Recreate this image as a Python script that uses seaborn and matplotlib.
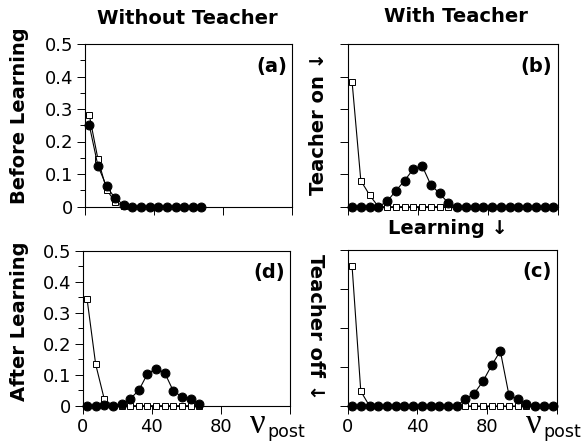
import numpy as np
import seaborn as sns
import matplotlib.pyplot as plt

# %%
# Values (bins of width 5, centred at 2.5, 7.5, ...)
nu_short = [2.5 + 5 * i for i in range(14)]
nu_long = [2.5 + 5 * i for i in range(24)]

a_filled = [0.250, 0.125, 0.062, 0.025, 0.005, 0, 0, 0, 0, 0, 0, 0, 0, 0]
a_open = [0.281, 0.146, 0.052, 0.014, 0.002, 0, 0, 0, 0, 0, 0, 0, 0, 0]

b_filled = [0, 0, 0, 0, 0.016, 0.049, 0.080, 0.116, 0.126, 0.067, 0.041, 0.011,
            0, 0, 0, 0, 0, 0, 0, 0, 0, 0, 0, 0]
b_open = [0.384, 0.080, 0.036, 0, 0, 0, 0, 0, 0, 0, 0, 0,
          0, 0, 0, 0, 0, 0, 0, 0, 0, 0, 0, 0]

c_filled = [0, 0, 0, 0, 0, 0, 0, 0, 0, 0, 0, 0, 0,
            0.018, 0.032, 0.063, 0.104, 0.141, 0.027, 0.017, 0.005, 0, 0, 0]
c_open = [0.359, 0.038, 0, 0, 0, 0, 0, 0, 0, 0, 0, 0,
          0, 0, 0, 0, 0, 0, 0, 0, 0, 0, 0, 0]

d_filled = [0, 0, 0.002, 0, 0.006, 0.022, 0.050, 0.103, 0.120, 0.106, 0.047, 0.029, 0.022, 0.006]
d_open = [0.346, 0.134, 0.021, 0, 0, 0, 0, 0, 0, 0, 0, 0, 0, 0]

x_ticks = [0, 40, 80, 120]
x_ticklabels = ['0', '40', '80', '']
y_ticks = [0, 0.1, 0.2, 0.3, 0.4, 0.5]
y_ticklabels = ['0', '0.1', '0.2', '0.3', '0.4', '0.5']
y_ticks_c = [0, 0.1, 0.2, 0.3, 0.4]

# %%
sns.set_theme(style='ticks')
plt.rcParams['font.family'] = ['DejaVu Sans']
plt.rcParams['axes.linewidth'] = 0.8
plt.rcParams['axes.edgecolor'] = 'black'
plt.rcParams['text.color'] = 'black'

W, H = 583, 445
fig = plt.figure(figsize=(W / 100, H / 100), dpi=100)


def box(l, t, r, b):
    return [l / W, 1 - b / H, (r - l) / W, (b - t) / H]


def px_text(x, y, s, **kw):
    fig.text(x / W, 1 - y / H, s, **kw)


ax_a = fig.add_axes(box(85, 44, 292, 206.5))
ax_b = fig.add_axes(box(347.7, 44, 557.7, 206.7))
ax_d = fig.add_axes(box(82.7, 251, 290, 405.7))
ax_c = fig.add_axes(box(347.7, 250, 557, 406))

panels = [
    (ax_a, nu_short, a_filled, a_open, '(a)'),
    (ax_b, nu_long, b_filled, b_open, '(b)'),
    (ax_c, nu_long, c_filled, c_open, '(c)'),
    (ax_d, nu_short, d_filled, d_open, '(d)'),
]

for ax, x, filled, hollow, tag in panels:
    sns.lineplot(x=x, y=hollow, ax=ax, color='black', lw=0.8, marker='s',
                 markersize=4.6, markerfacecolor='white', markeredgecolor='black',
                 markeredgewidth=0.7, estimator=None, sort=False, clip_on=False, zorder=3)
    sns.lineplot(x=x, y=filled, ax=ax, color='black', lw=0.8, marker='o',
                 markersize=6.4, markerfacecolor='black', markeredgecolor='black',
                 estimator=None, sort=False, clip_on=False, zorder=4)
    ax.set_xlim(0, 120)
    ax.set_xticks(x_ticks)
    ax.set_xticklabels(x_ticklabels)
    ax.set_xlabel('')
    ax.set_ylabel('')
    ax.tick_params(axis='both', which='major', length=5.5, width=0.7, direction='out',
                   pad=3, labelsize=13, color='black', labelcolor='black')
    ax.tick_params(axis='y', which='minor', length=3.5, width=0.7, direction='out', color='black')
    ax.text(0.975, 0.92, tag, transform=ax.transAxes, ha='right', va='top',
            fontsize=14, fontweight='bold', color='black')
    for sp in ax.spines.values():
        sp.set_visible(True)

for ax in (ax_a, ax_b, ax_d):
    ax.set_ylim(0, 0.5)
    ax.set_yticks(y_ticks)
ax_c.set_ylim(0, 0.4)
ax_c.set_yticks(y_ticks_c)

for ax in (ax_a, ax_d):
    ax.set_yticklabels(y_ticklabels)
    ax.set_yticks([0.05, 0.15, 0.25, 0.35, 0.45], minor=True)
for ax in (ax_b, ax_c):
    ax.tick_params(labelleft=False)
for ax in (ax_a, ax_b):
    ax.tick_params(labelbottom=False)

# column / row headings
bold = dict(fontsize=14, fontweight='bold', ha='center', va='center', color='black')
px_text(187, 18, 'Without Teacher', **bold)
px_text(456, 17, 'With Teacher', **bold)
px_text(20, 116, 'Before Learning', rotation=90, **bold)
px_text(20, 321, 'After Learning', rotation=90, **bold)
px_text(318, 124, 'Teacher on \u2193', rotation=90, **bold)
px_text(316, 327, 'Teacher off \u2193', rotation=-90, **bold)
px_text(448, 229, 'Learning \u2193', **bold)

# axis labels nu_post
for x0 in (250, 526):
    px_text(x0, 433, '\u03bd', family='Liberation Serif', fontsize=25, va='baseline')
    px_text(x0 + 17.5, 437, 'post', fontsize=12.5, va='baseline')

fig.savefig('out.png', dpi=100)
